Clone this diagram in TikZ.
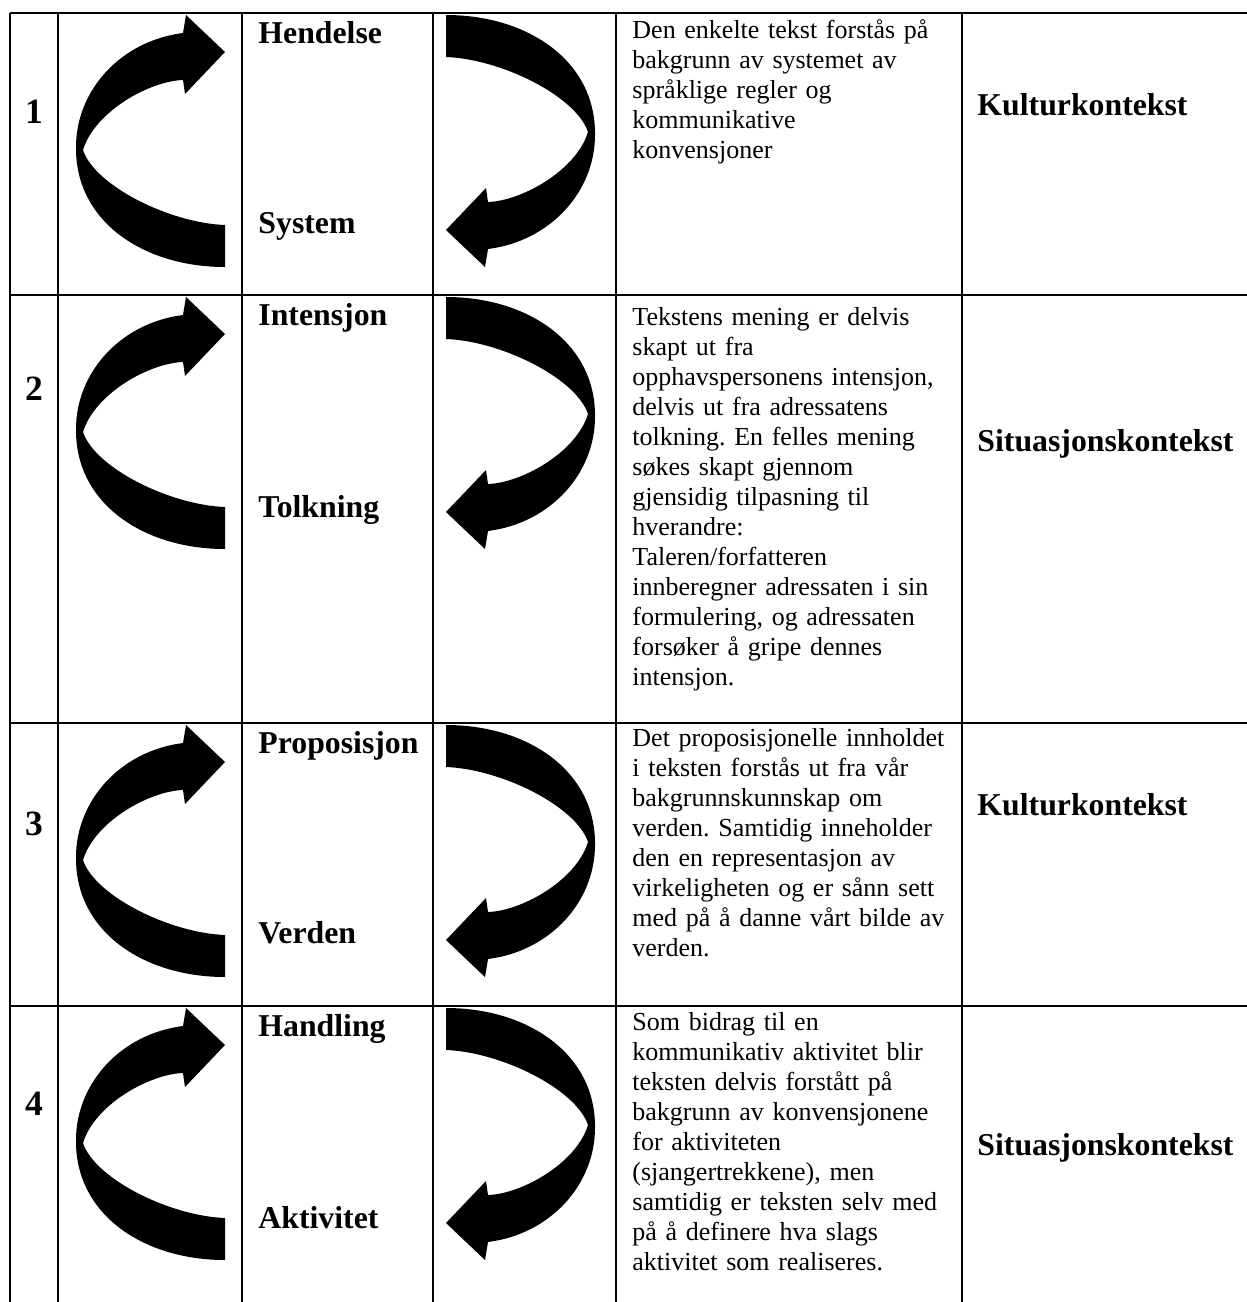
\documentclass[tikz,border=0pt]{standalone}
\usepackage{fontspec}
\setmainfont{Liberation Serif}
\usepackage{tikz}
\frenchspacing

% curved arrow, drawn round its own centre
\newcommand{\curlarrow}{%
  \fill (75,126) .. controls (-7,126) and (-75,80) .. (-74,6)
    .. controls (-74,-50) and (-30,-100) .. (33,-108)
    -- (36,-126) -- (75,-89) -- (35,-47) -- (33,-61)
    .. controls (0,-60) and (-55,-30) .. (-67,9)
    .. controls (-55,45) and (20,82) .. (75,84) -- cycle;}

\tikzset{
  rownum/.style={anchor=base, inner sep=0pt, font=\fontsize{16}{18}\selectfont\bfseries},
  headtext/.style={anchor=base west, inner sep=0pt, font=\fontsize{14.3}{16}\selectfont\bfseries},
  desc/.style={anchor=base west, inner sep=0pt, text width=155pt, align=left,
    font=\fontsize{11.7}{13.5}\selectfont},
  grid/.style={line width=0.8pt}
}

\begin{document}
\begin{tikzpicture}[x=0.45pt, y=-0.45pt]
  \useasboundingbox (0,0) rectangle (1247,1302);

  % table lines
  \foreach \x in {10,58,242,433,616,962}
    \draw [grid] (\x,13) -- (\x,1302);
  \foreach \y in {13,295,723,1006}
    \draw [grid] (10,\y) -- (1247,\y);

  % arrows
  \foreach \y in {141,423,851,1134} {
    \begin{scope}[shift={(150,\y)}] \curlarrow \end{scope}
    \begin{scope}[shift={(521,\y)}, rotate=180] \curlarrow \end{scope}
  }

  % row 1
  \node [rownum] (num1) at (34,123) {1};
  \node [headtext] (top1) at (258,43) {Hendelse};
  \node [headtext] (bot1) at (258,233) {System};
  \node [desc] (desc1) at (632,38) {Den enkelte tekst forstås på\\
    bakgrunn av systemet av\\ språklige regler og\\ kommunikative\\
    konvensjoner};
  \node [headtext] (ctx1) at (977,115) {Kulturkontekst};

  % row 2
  \node [rownum] (num2) at (34,400) {2};
  \node [headtext] (top2) at (258,325) {Intensjon};
  \node [headtext] (bot2) at (258,517) {Tolkning};
  \node [desc] (desc2) at (632,325) {Tekstens mening er delvis\\
    skapt ut fra\\ opphavspersonens intensjon,\\ delvis ut fra adressatens\\
    tolkning. En felles mening\\ søkes skapt gjennom\\
    gjensidig tilpasning til\\ hverandre:\\ Taleren/forfatteren\\
    innberegner adressaten i sin\\ formulering, og adressaten\\
    forsøker å gripe dennes\\ intensjon.};
  \node [headtext] (ctx2) at (977,451) {Situasjonskontekst};

  % row 3
  \node [rownum] (num3) at (34,835) {3};
  \node [headtext] (top3) at (258,753) {Proposisjon};
  \node [headtext] (bot3) at (258,943) {Verden};
  \node [desc] (desc3) at (632,746) {Det proposisjonelle innholdet\\
    i teksten forstås ut fra vår\\ bakgrunnskunnskap om\\
    verden. Samtidig inneholder\\ den en representasjon av\\
    virkeligheten og er sånn sett\\ med på å danne vårt bilde av\\ verden.};
  \node [headtext] (ctx3) at (977,815) {Kulturkontekst};

  % row 4
  \node [rownum] (num4) at (34,1115) {4};
  \node [headtext] (top4) at (258,1036) {Handling};
  \node [headtext] (bot4) at (258,1228) {Aktivitet};
  \node [desc] (desc4) at (632,1030) {Som bidrag til en\\
    kommunikativ aktivitet blir\\ teksten delvis forstått på\\
    bakgrunn av konvensjonene\\ for aktiviteten\\ (sjangertrekkene), men\\
    samtidig er teksten selv med\\ på å definere hva slags\\
    aktivitet som realiseres.};
  \node [headtext] (ctx4) at (977,1155) {Situasjonskontekst};
\end{tikzpicture}
\end{document}
